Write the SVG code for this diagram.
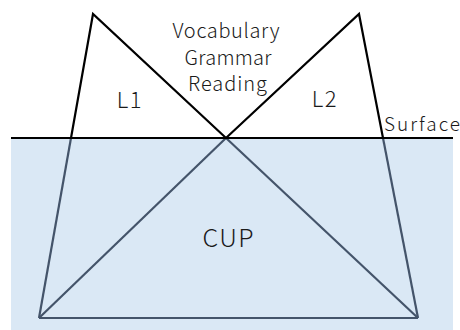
<svg xmlns="http://www.w3.org/2000/svg" width="460" height="330" viewBox="0 0 460 330">
<style>
.t{font-family:"Noto Sans CJK JP","Noto Sans",sans-serif;font-weight:300;fill:#1a1a1a;text-anchor:middle}
.above{stroke:#000;stroke-width:2.2;fill:none;stroke-linejoin:miter}
.below{stroke:#44546a;stroke-width:2.2;fill:none}
</style>
<rect id="water" x="11" y="139" width="442" height="191" fill="#dae8f5"/>
<g id="connectors">
<line class="below" x1="71" y1="138" x2="39" y2="318"/>
<line class="below" x1="383" y1="138" x2="418" y2="318"/>
<line class="below" x1="226" y1="138" x2="39" y2="318"/>
<line class="below" x1="226" y1="138" x2="418" y2="318"/>
<line class="below" x1="39" y1="318" x2="418" y2="318"/>
</g>
<g id="L1">
<polyline class="above" points="71,138 93,14 226,138"/>
<text class="t" x="130" y="108" font-size="22" letter-spacing="1.5">L1</text>
</g>
<g id="L2">
<polyline class="above" points="226,138 359,14 383,138"/>
<text class="t" x="325" y="107" font-size="22" letter-spacing="1.5">L2</text>
</g>
<g id="surface">
<line x1="11" y1="138" x2="453" y2="138" stroke="#000" stroke-width="2.2"/>
<text x="384" y="131" font-size="19" class="t" style="text-anchor:start" textLength="76" lengthAdjust="spacing">Surface</text>
</g>
<g id="skills">
<text class="t" x="226" y="38" font-size="20" textLength="107" lengthAdjust="spacing">Vocabulary</text>
<text class="t" x="228" y="64.5" font-size="20" textLength="87" lengthAdjust="spacing">Grammar</text>
<text class="t" x="227.5" y="91" font-size="20" textLength="79" lengthAdjust="spacing">Reading</text>
</g>
<g id="CUP">
<text class="t" x="228" y="247" font-size="25" textLength="51" lengthAdjust="spacing">CUP</text>
</g>
</svg>
